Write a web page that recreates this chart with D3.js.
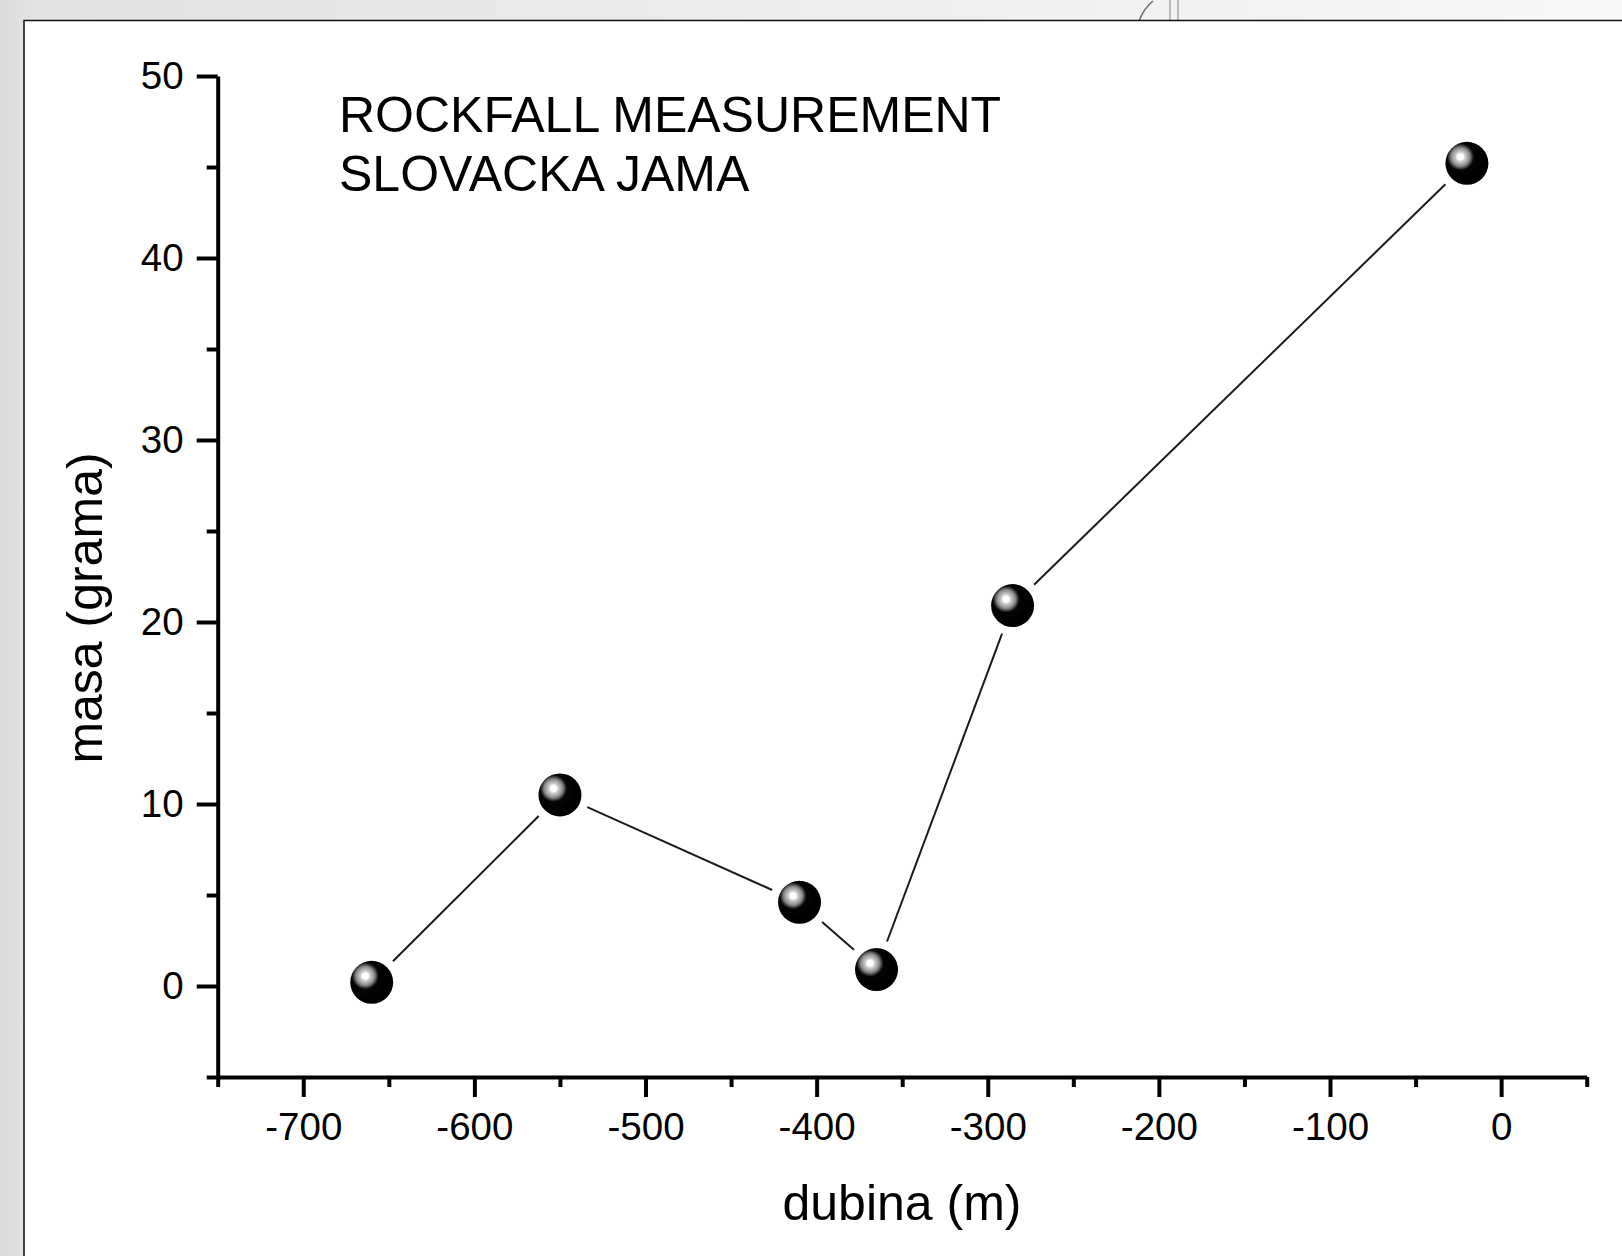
<!DOCTYPE html>
<html>
<head>
<meta charset="utf-8">
<script src="https://cdn.jsdelivr.net/npm/d3@7"></script>
<style>
  body { margin: 0; padding: 0; overflow: hidden; }
  text { font-family: "Liberation Sans", Arial, sans-serif; fill: #000; }
</style>
</head>
<body>
<div id="chart"></div>
<script>
const width = 1622;
const height = 1256;

// data
const depth = [-660, -550, -410, -365, -285.5, -20];
const mass = [0.2, 10.5, 4.6, 0.9, 20.9, 45.2];
const xMajor = [-700, -600, -500, -400, -300, -200, -100, 0];
const xMinor = [-750, -650, -550, -450, -350, -250, -150, -50, 50];
const yMajor = [0, 10, 20, 30, 40, 50];
const yMinor = [-5, 5, 15, 25, 35, 45];
const titleLines = ["ROCKFALL MEASUREMENT", "SLOVACKA JAMA"];

const svg = d3.select("#chart")
  .append("svg")
  .attr("width", width)
  .attr("height", height);

const defs = svg.append("defs");

// page background
const bg = defs.append("linearGradient").attr("id", "bg")
  .attr("x1", 0).attr("y1", 0).attr("x2", 1).attr("y2", 0);
bg.append("stop").attr("offset", 0).attr("stop-color", "#dcdcdc");
bg.append("stop").attr("offset", 0.02).attr("stop-color", "#e3e3e3");
bg.append("stop").attr("offset", 0.4).attr("stop-color", "#ebebeb");
bg.append("stop").attr("offset", 1).attr("stop-color", "#f8f8f8");

// shiny ball marker
const ball = defs.append("radialGradient").attr("id", "ball")
  .attr("cx", 0.35).attr("cy", 0.35).attr("r", 0.5)
  .attr("fx", 0.35).attr("fy", 0.35);
[[0, "#ffffff"], [0.14, "#ffffff"], [0.22, "#cfcfcf"], [0.34, "#a8a8a8"],
 [0.44, "#858585"], [0.52, "#4a4a4a"], [0.62, "#050505"], [1, "#000000"]].forEach(s => {
  ball.append("stop").attr("offset", s[0]).attr("stop-color", s[1]);
});

svg.append("rect")
  .attr("width", width)
  .attr("height", height)
  .attr("fill", "url(#bg)");

// faint sketch in the background strip
svg.append("path")
  .attr("d", "M1139,21 Q1144,8 1153,1")
  .attr("fill", "none")
  .attr("stroke", "#666")
  .attr("stroke-width", 1.5);
svg.append("path")
  .attr("d", "M1170,0 V20 M1178,0 V20")
  .attr("fill", "none")
  .attr("stroke", "#aaa")
  .attr("stroke-width", 1.5);

// white panel
svg.append("rect")
  .attr("x", 24)
  .attr("y", 20.5)
  .attr("width", width)
  .attr("height", height)
  .attr("fill", "#fff")
  .attr("stroke", "#111")
  .attr("stroke-width", 1.5);

const x = d3.scaleLinear()
  .domain([-750, 50])
  .range([217.7, 1586.7]);

const y = d3.scaleLinear()
  .domain([-5, 50])
  .range([1077, 76]);

const fmt = d => String(d);

function styleAxis(g) {
  g.selectAll("path, line")
    .style("stroke", "#000")
    .style("stroke-width", "4px");
  g.selectAll("text")
    .style("font-family", '"Liberation Sans", Arial, sans-serif')
    .style("font-size", "38.5px")
    .attr("fill", "#000");
}

// y axis
svg.append("g")
  .attr("transform", `translate(${x(-750)}, 0)`)
  .call(d3.axisLeft(y).tickValues(yMinor).tickSize(11).tickSizeOuter(0).tickFormat(""))
  .call(styleAxis);

svg.append("g")
  .attr("transform", `translate(${x(-750)}, 0)`)
  .call(d3.axisLeft(y).tickValues(yMajor).tickSize(21).tickSizeOuter(0).tickPadding(13).tickFormat(fmt))
  .call(styleAxis)
  .call(g => g.select(".domain").remove());

// x axis
svg.append("g")
  .attr("transform", `translate(0, ${y(-5)})`)
  .call(d3.axisBottom(x).tickValues(xMinor).tickSize(10).tickSizeOuter(0).tickFormat(""))
  .call(styleAxis);

svg.append("g")
  .attr("transform", `translate(0, ${y(-5)})`)
  .call(d3.axisBottom(x).tickValues(xMajor).tickSize(20).tickSizeOuter(0).tickPadding(16).tickFormat(fmt))
  .call(styleAxis)
  .call(g => g.select(".domain").remove());

// axis titles
svg.append("text")
  .attr("x", 902)
  .attr("y", 1220)
  .attr("text-anchor", "middle")
  .style("font-size", "50px")
  .text("dubina (m)");

svg.append("text")
  .attr("transform", "translate(102, 608) rotate(-90)")
  .attr("text-anchor", "middle")
  .style("font-size", "50px")
  .text("masa (grama)");

// chart title
svg.append("text")
  .attr("x", 339)
  .attr("y", 132)
  .style("font-size", "50px")
  .text(titleLines[0]);

svg.append("text")
  .attr("x", 339)
  .attr("y", 191)
  .style("font-size", "50px")
  .text(titleLines[1]);

// connecting line, with gaps around each ball
const pts = depth.map((d, i) => [x(d), y(mass[i])]);
const gap = 30;
const segs = d3.pairs(pts).map(([a, b]) => {
  const dx = b[0] - a[0], dy = b[1] - a[1];
  const len = Math.hypot(dx, dy);
  const ux = dx / len, uy = dy / len;
  return [a[0] + ux * gap, a[1] + uy * gap, b[0] - ux * gap, b[1] - uy * gap];
});

svg.selectAll(".seg")
  .data(segs)
  .enter()
  .append("line")
  .attr("class", "seg")
  .attr("x1", d => d[0])
  .attr("y1", d => d[1])
  .attr("x2", d => d[2])
  .attr("y2", d => d[3])
  .attr("stroke", "#1a1a1a")
  .attr("stroke-width", 2);

// balls
svg.selectAll(".ball")
  .data(depth)
  .enter()
  .append("circle")
  .attr("class", "ball")
  .attr("cx", d => x(d))
  .attr("cy", (d, i) => y(mass[i]))
  .attr("r", 21.5)
  .attr("fill", "url(#ball)");
</script>
</body>
</html>
